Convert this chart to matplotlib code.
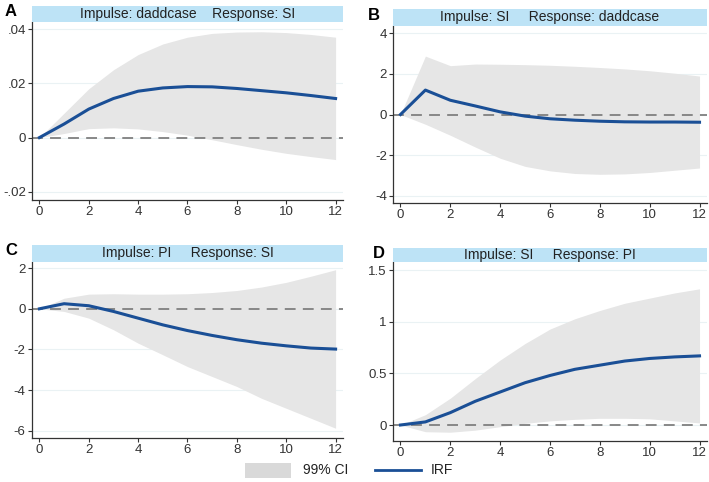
import numpy as np
import matplotlib.pyplot as plt
from matplotlib.patches import Rectangle
from matplotlib.lines import Line2D

plt.rcParams['font.family'] = ['Liberation Sans', 'DejaVu Sans']

steps = list(range(13))

# panel A: impulse daddcase -> response SI
a_irf = [0, 0.005, 0.0105, 0.0144, 0.0171, 0.0183, 0.0188, 0.0187, 0.0181, 0.0173, 0.0165, 0.0155, 0.0144]
a_up = [0, 0.009, 0.018, 0.025, 0.0306, 0.0345, 0.037, 0.0384, 0.0389, 0.039, 0.0387, 0.038, 0.037]
a_lo = [0, 0.0015, 0.0033, 0.0036, 0.0032, 0.0022, 0.0009, -0.0008, -0.0026, -0.0043, -0.0058, -0.007, -0.0081]

# panel B: impulse SI -> response daddcase
b_irf = [0, 1.2, 0.7, 0.42, 0.13, -0.08, -0.21, -0.28, -0.33, -0.36, -0.37, -0.37, -0.38]
b_up = [0, 2.87, 2.4, 2.48, 2.47, 2.45, 2.42, 2.37, 2.31, 2.24, 2.15, 2.03, 1.89]
b_lo = [0, -0.48, -1.02, -1.6, -2.15, -2.55, -2.77, -2.9, -2.94, -2.92, -2.85, -2.74, -2.63]

# panel C: impulse PI -> response SI
c_irf = [0, 0.25, 0.15, -0.13, -0.46, -0.79, -1.07, -1.31, -1.52, -1.69, -1.82, -1.93, -1.98]
c_up = [0, 0.52, 0.72, 0.74, 0.72, 0.72, 0.74, 0.8, 0.9, 1.07, 1.3, 1.6, 1.92]
c_lo = [0, -0.13, -0.46, -1.03, -1.69, -2.26, -2.84, -3.33, -3.82, -4.4, -4.89, -5.38, -5.87]

# panel D: impulse SI -> response PI
d_irf = [0, 0.03, 0.12, 0.23, 0.32, 0.41, 0.48, 0.54, 0.58, 0.62, 0.645, 0.66, 0.67]
d_up = [0, 0.1, 0.26, 0.45, 0.63, 0.79, 0.93, 1.03, 1.11, 1.18, 1.23, 1.28, 1.32]
d_lo = [0, -0.065, -0.07, -0.05, -0.016, 0.016, 0.04, 0.055, 0.065, 0.065, 0.06, 0.04, 0.02]

titles = ["Impulse: daddcase    Response: SI", "Impulse: SI     Response: daddcase",
          "Impulse: PI     Response: SI", "Impulse: SI     Response: PI"]
letters = ["A", "B", "C", "D"]
yticks = [[-0.02, 0, 0.02, 0.04], [-4, -2, 0, 2, 4], [-6, -4, -2, 0, 2], [0, 0.5, 1, 1.5]]
ytlabels = [["-.02", "0", ".02", ".04"], ["-4", "-2", "0", "2", "4"],
            ["-6", "-4", "-2", "0", "2"], ["0", "0.5", "1", "1.5"]]
ylims = [(-0.023, 0.0426), (-4.35, 4.35), (-6.35, 2.3), (-0.155, 1.58)]

W, H = 709, 482
# pixel boxes: left, right, top, bottom, bar top
boxes = [(32, 343, 22, 200, 6), (393, 707, 26, 203, 9),
         (32, 343, 262, 438, 245), (393, 707, 262, 441, 248)]
letter_pos = [(5, 12), (368, 16), (5, 250), (373, 253)]

fig = plt.figure(figsize=(W / 100, H / 100), dpi=100)
navy = "#1a4f96"
band = "#e6e6e6"

data = [(a_irf, a_up, a_lo), (b_irf, b_up, b_lo), (c_irf, c_up, c_lo), (d_irf, d_up, d_lo)]
for i, (irf, up, lo) in enumerate(data):
    l, r, t, b, bt = boxes[i]
    ax = fig.add_axes([l / W, 1 - b / H, (r - l) / W, (b - t) / H])
    ax.fill_between(steps, lo, up, color=band, lw=0, zorder=1)
    ax.axhline(0, color="#7f7f7f", lw=1.3, ls=(0, (6, 4)), zorder=2)
    ax.plot(steps, irf, color=navy, lw=2.2, zorder=3)
    ax.set_xlim(-0.3, 12.3)
    ax.set_ylim(*ylims[i])
    ax.set_xticks(range(0, 13, 2))
    ax.set_yticks(yticks[i])
    ax.set_yticklabels(ytlabels[i])
    for y in yticks[i]:
        ax.axhline(y, color="#eaf2f4", lw=0.8, zorder=0)
    for s in ["top", "right"]:
        ax.spines[s].set_visible(False)
    for s in ["left", "bottom"]:
        ax.spines[s].set_color("#333333")
        ax.spines[s].set_linewidth(0.9)
    ax.tick_params(labelsize=9.5, colors="#333333", length=3, width=0.8, pad=1.5)
    # header strip
    fig.patches.append(Rectangle((l / W, 1 - t / H), (r - l) / W, (t - bt) / H,
                                 transform=fig.transFigure, facecolor="#bde3f6",
                                 edgecolor="none"))
    fig.text((l + r) / 2 / W, 1 - (t + bt) / 2 / H, titles[i], ha="center", va="center",
             fontsize=10, color="#222222")
    lx, ly = letter_pos[i]
    fig.text(lx / W, 1 - ly / H, letters[i], fontsize=12, fontweight="bold",
             ha="left", va="center")

# legend
fig.patches.append(Rectangle((245 / W, 1 - 478 / H), 46 / W, 15 / H,
                             transform=fig.transFigure, facecolor="#d9d9d9", edgecolor="none"))
fig.text(303 / W, 1 - 470 / H, "99% CI", fontsize=10, va="center", color="#222222")
fig.lines.append(Line2D([375 / W, 421 / W], [1 - 470 / H, 1 - 470 / H],
                        transform=fig.transFigure, color=navy, lw=2))
fig.text(431 / W, 1 - 470 / H, "IRF", fontsize=10, va="center", color="#222222")

fig.savefig("out.png", dpi=100)
